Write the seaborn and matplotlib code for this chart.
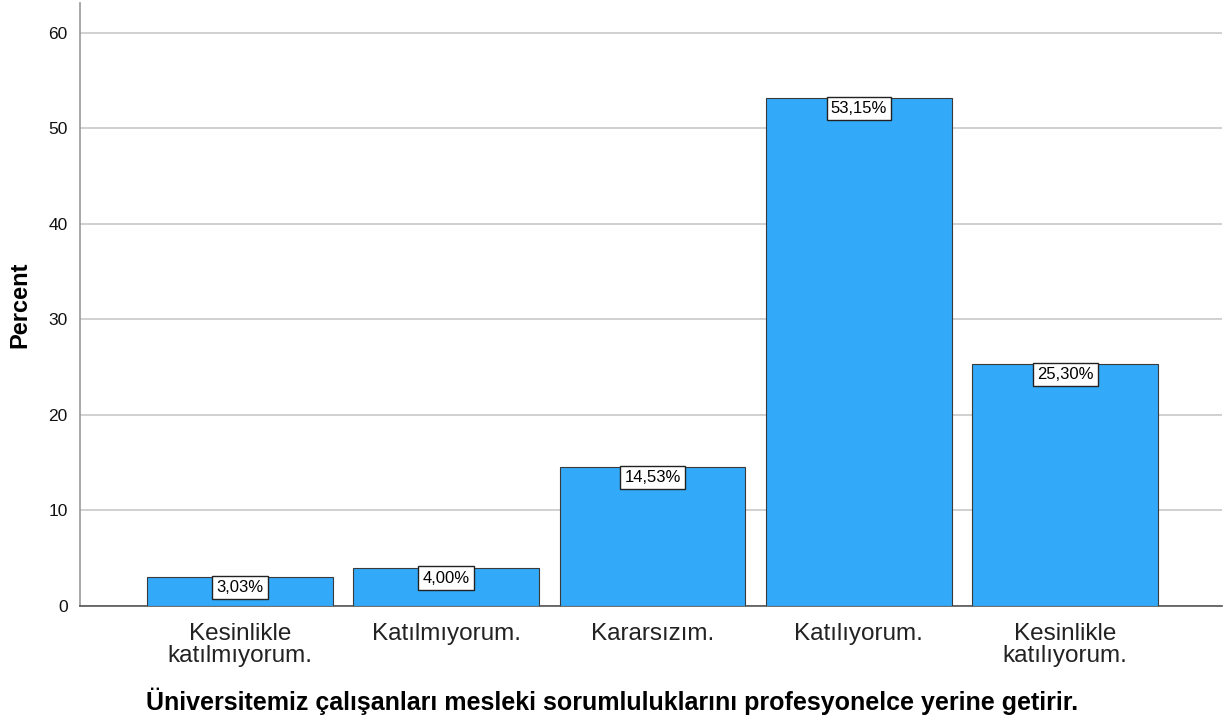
import pandas as pd
import numpy as np
import seaborn as sns
import matplotlib.pyplot as plt

# datos
categorias = ["Kesinlikle\nkatılmıyorum.", "Katılmıyorum.", "Kararsızım.",
              "Katılıyorum.", "Kesinlikle\nkatılıyorum."]
porcentajes = [3.03, 4.00, 14.53, 53.15, 25.30]
etiquetas = ["3,03%", "4,00%", "14,53%", "53,15%", "25,30%"]
y_ticks = [0, 10, 20, 30, 40, 50, 60]

df = pd.DataFrame({"Categoria": categorias, "Percent": porcentajes})

sns.set_style("white")
plt.rcParams['font.family'] = ['Liberation Sans', 'DejaVu Sans']

fig = plt.figure(figsize=(12.25, 7.19), dpi=100)
ax = fig.add_axes([80 / 1225, 1 - 606 / 719, (1222 - 80) / 1225, (606 - 3) / 719])

sns.barplot(data=df, x="Categoria", y="Percent", color="#33aaf9", saturation=1,
            width=0.9, edgecolor="#3a3a3a", linewidth=0.8, ax=ax, zorder=3)

ax.set_ylim(0, 63.1)
ax.set_xlim(-0.775, 4.76)
ax.set_yticks(y_ticks)
ax.yaxis.grid(True, color="#c8c8c8", linewidth=1.2, zorder=0)
ax.set_axisbelow(True)

for s in ["top", "right"]:
    ax.spines[s].set_visible(False)
ax.spines["left"].set_color("#999999")
ax.spines["left"].set_linewidth(1.2)
ax.spines["bottom"].set_color("#555555")
ax.spines["bottom"].set_linewidth(1.2)

ax.tick_params(axis="y", length=0, pad=9, labelsize=12.5, labelcolor="#111111")
ax.tick_params(axis="x", length=0, pad=12, labelsize=17.5, labelcolor="#222222")
for t in ax.get_xticklabels():
    t.set_linespacing(1.0)

# etiquetas de valor
for i, (v, txt) in enumerate(zip(porcentajes, etiquetas)):
    ax.text(i, v - 0.3, txt, ha="center", va="top", fontsize=12, zorder=5,
            color="black",
            bbox=dict(boxstyle="square,pad=0.25", facecolor="white",
                      edgecolor="#222222", linewidth=1))

ax.set_ylabel("Percent", fontsize=17, fontweight="bold", labelpad=12, color="black")
ax.set_xlabel("Üniversitemiz çalışanları mesleki sorumluluklarını profesyonelce yerine getirir.",
              fontsize=18, fontweight="bold", color="black")
# centrado en la figura, no en el eje
ax.xaxis.set_label_coords(0.466, -0.135)

plt.savefig("out.png", dpi=100)
